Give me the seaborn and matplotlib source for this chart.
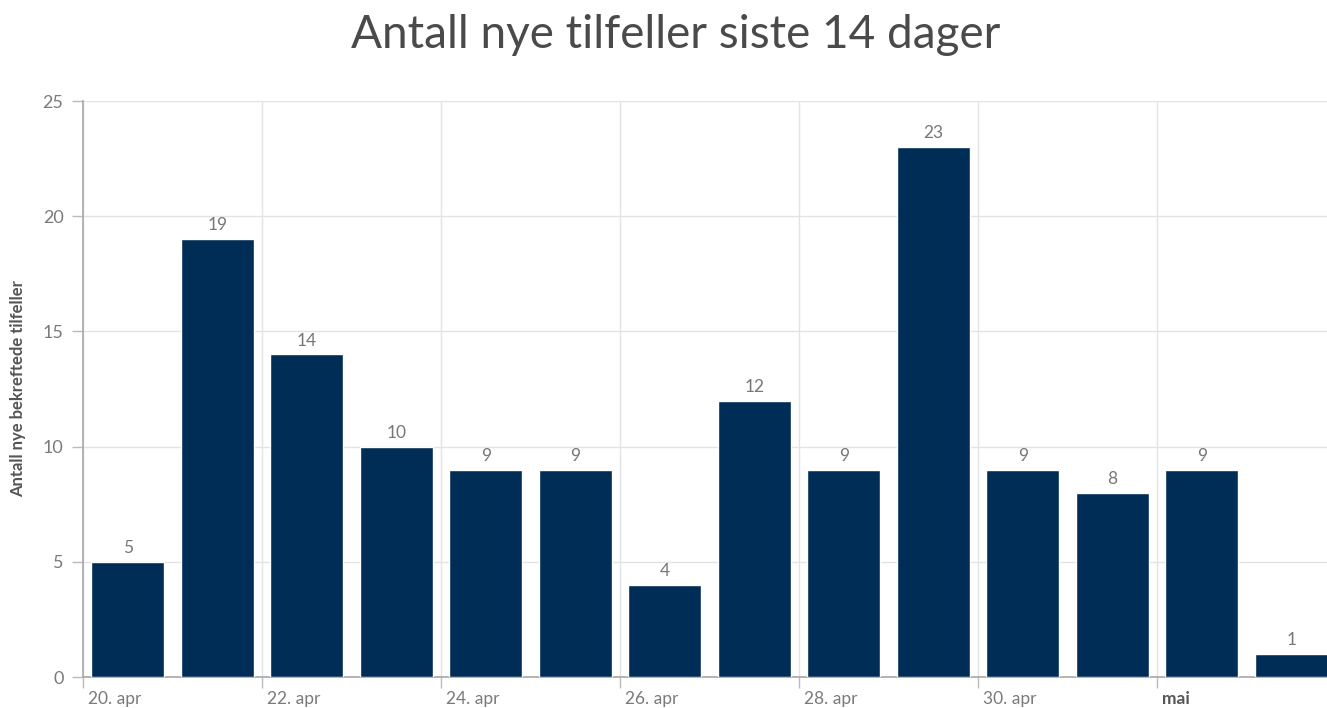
import matplotlib
matplotlib.use("Agg")
import matplotlib.pyplot as plt
import seaborn as sns
import pandas as pd

dates = ["20. apr", "21. apr", "22. apr", "23. apr", "24. apr", "25. apr", "26. apr",
         "27. apr", "28. apr", "29. apr", "30. apr", "1. mai", "2. mai", "3. mai"]
values = [5, 19, 14, 10, 9, 9, 4, 12, 9, 23, 9, 8, 9, 1]
tick_labels = ["20. apr", "22. apr", "24. apr", "26. apr", "28. apr", "30. apr", "mai"]
y_ticks = [0, 5, 10, 15, 20, 25]

sns.set_theme(style="white")
plt.rcParams['font.family'] = ['Lato', 'DejaVu Sans']

df = pd.DataFrame({"dato": dates, "antall": values})

fig = plt.figure(figsize=(13.27, 7.08), dpi=100)
ax = fig.add_axes([83/1327, 31/708, 1 - 83/1327, (677-101)/708])

sns.barplot(data=df, x="dato", y="antall", color="#002d56", saturation=1,
            width=0.82, ax=ax, zorder=3)

for i, v in enumerate(values):
    ax.text(i, v + 0.25, str(v), ha="center", va="bottom", fontsize=12.5, color="#777777")

ax.set_xlim(-0.5, 13.4)
ax.set_ylim(0, 25)
ax.set_yticks(y_ticks)
ax.set_yticklabels([str(t) for t in y_ticks], fontsize=13, color="#7a7a7a")

pos = [-0.5 + 2 * k for k in range(len(tick_labels))]
ax.set_xticks(pos)
ax.set_xticklabels([""] * len(pos))
# labels sit just right of each day-boundary tick
ax.set_xticks([p + 0.06 for p in pos], minor=True)
ax.set_xticklabels(tick_labels, minor=True, fontsize=12.5, color="#7a7a7a", ha="left")
for lbl in ax.get_xticklabels(minor=True):
    if lbl.get_text() == "mai":
        lbl.set_fontweight("bold")
        lbl.set_color("#555555")

ax.grid(True, which="major", axis="both", color="#e3e3e3", linewidth=1, zorder=0)
ax.set_axisbelow(True)
ax.tick_params(axis="y", length=8, color="#bbbbbb", width=1, pad=6, left=True)
ax.tick_params(axis="x", which="major", length=8, color="#bbbbbb", width=1, bottom=True)
ax.tick_params(axis="x", which="minor", length=0, width=0, pad=10, bottom=True)

for s in ["top", "right"]:
    ax.spines[s].set_visible(False)
ax.spines["left"].set_color("#aaaaaa")
ax.spines["bottom"].set_color("#aaaaaa")

ax.set_xlabel("")
ax.set_ylabel("Antall nye bekreftede tilfeller", fontsize=12, fontweight="bold",
              color="#555555", labelpad=12)

fig.text(676/1327, 1 - 35/708, "Antall nye tilfeller siste 14 dager", ha="center", va="center",
         fontsize=33, color="#4a4a4a")

fig.savefig("out.png", dpi=100)
